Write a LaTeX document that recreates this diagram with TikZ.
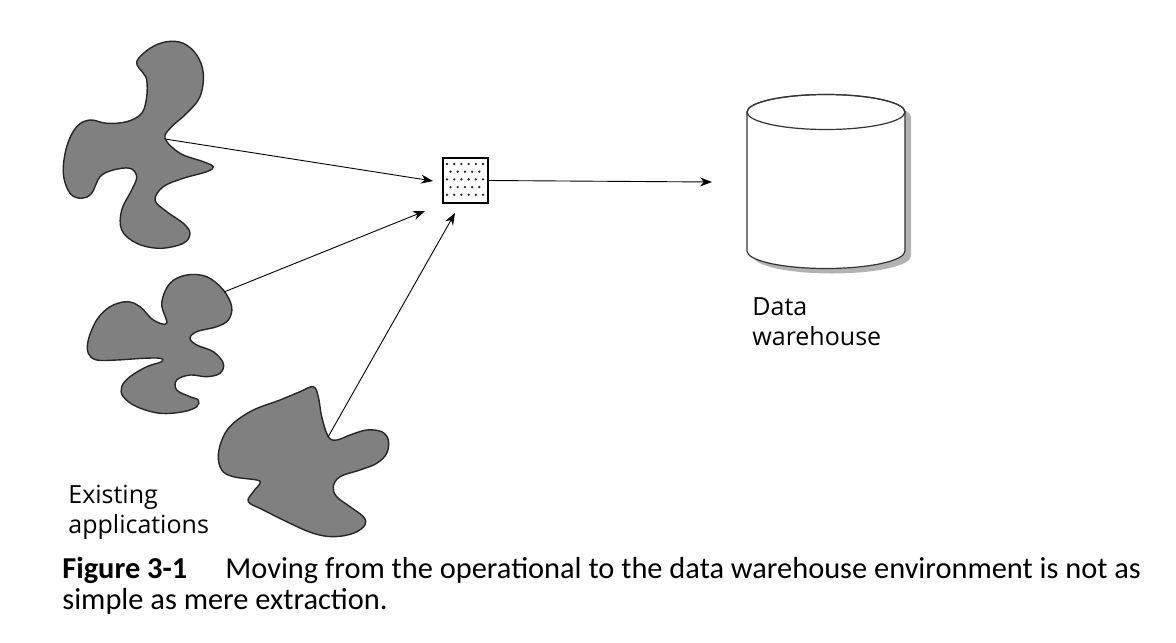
\documentclass[tikz,border=0pt]{standalone}
\usepackage{fontspec}
\usepackage{tikz}
\usetikzlibrary{arrows.meta}
\newfontfamily\labelfont{Open Sans}
\newfontfamily\capfont{Carlito}
\definecolor{blobgray}{gray}{0.5}
\definecolor{shadowgray}{gray}{0.7}

\begin{document}
\begin{tikzpicture}[x=0.5pt, y=-0.5pt,
 blob/.style={draw=black!85, line width=0.7pt, fill=blobgray},
 feed/.style={-{Stealth[length=6pt, width=4.5pt]}, line width=0.45pt},
 label/.style={font=\labelfont\fontsize{12.5}{15}\selectfont, align=left, inner sep=0pt},
 caption/.style={font=\capfont\fontsize{15.2}{15}\selectfont, inner sep=0pt, anchor=base west}]

\useasboundingbox (0,0) rectangle (1176,642);

% existing applications, three blobs
\draw[blob] plot[smooth cycle, tension=0.6] coordinates {
 (136.7,61.7) (150,48.3) (166.7,41.7) (183.3,43.3) (196.7,55) (203.3,73.3)
 (200,96.7) (186.7,113.3) (171.7,126.7) (165,138.3) (180,153.3) (203.3,161.7)
 (213.3,166.7) (206.7,171.7) (183.3,178.3) (163.3,186.7) (155,200) (166.7,211.7)
 (183.3,223.3) (190,233.3) (183.3,243.3) (160,248.3) (136.7,243.3) (121.7,230)
 (121.7,210) (131.7,190) (136.7,176.7) (130,168.3) (113.3,170) (100,176.7)
 (91.7,193.3) (81.7,198.3) (70,193.3) (63.3,173.3) (66.7,146.7) (76.7,126.7)
 (90,120) (106.7,123.3) (126.7,121.7) (141.7,113.3) (146.7,96.7) (146.7,80)
 (143.3,73.3)};
\draw[blob] plot[smooth cycle, tension=0.6] coordinates {
 (166.7,323.3) (161.7,303.3) (170,283.3) (186.7,275) (206.7,276.7) (223.3,290)
 (231.7,306.7) (228.3,320) (216.7,326.7) (196.7,331.7) (190,338.3) (196.7,345)
 (213.3,351.7) (223.3,363.3) (220,373.3) (206.7,376.7) (190,375) (176.7,380)
 (176.7,390) (190,396.7) (198.3,400) (196.7,406.7) (183.3,411.7) (160,413.3)
 (136.7,406.7) (123.3,396.7) (121.7,386.7) (130,376.7) (146.7,366.7) (161.7,361.7)
 (160,358.3) (143.3,358.3) (116.7,360) (96.7,360) (88.3,353.3) (88.3,340)
 (96.7,320) (110,306.7) (126.7,301.7) (140,306.7) (153.3,320)};
\draw[blob] plot[smooth cycle, tension=0.6] coordinates {
 (313.3,386.7) (318.3,396.7) (321.7,416.7) (328.3,436.7) (336.7,440) (350,435)
 (366.7,430) (381.7,431.7) (388.3,440) (386.7,453.3) (376.7,463.3) (360,470)
 (340,476.7) (333.3,486.7) (336.7,496.7) (350,506.7) (363.3,516.7) (365,525)
 (353.3,533.3) (333.3,536.7) (313.3,533.3) (290,523.3) (263.3,510) (248.3,501.7)
 (253.3,491.7) (260,483.3) (256.7,480) (233.3,476.7) (221.7,470) (218.3,455)
 (223.3,436.7) (233.3,423.3) (253.3,410) (280,400) (300,391.7)};

\coordinate (app1out) at (165,139);
\coordinate (app2out) at (224,292);
\coordinate (app3out) at (328,437);

% staging box with dots
\node[draw, line width=0.7pt, fill=white, minimum size=22.5pt, inner sep=0pt] (stage) at (465.5,180.5) {};
\foreach \dx in {0,...,5}
 \foreach \row in {0,2,4}
  \fill[black!85] (447+\dx*7.2, 164+\row*7.7) circle[radius=0.65pt];
\foreach \dx in {0,...,4}
 \foreach \row in {1,3}
  \fill[black!85] (450.5+\dx*7.2, 164+\row*7.7) circle[radius=0.65pt];

% data warehouse cylinder with shadow
\begin{scope}[shift={(6,5)}]
\fill[shadowgray] (747,112) -- (747,251) arc[start angle=180, end angle=0, x radius=79, y radius=17.5]
 -- (905,112) arc[start angle=0, end angle=-180, x radius=79, y radius=17.5] -- cycle;
\end{scope}
\filldraw[fill=white, draw=black!80, line width=0.6pt] (747,112) -- (747,251)
 arc[start angle=180, end angle=0, x radius=79, y radius=17.5]
 -- (905,112) arc[start angle=0, end angle=-180, x radius=79, y radius=17.5] -- cycle;
\draw[black!80, line width=0.6pt] (826,112) ellipse[x radius=79, y radius=17.5];

\coordinate (tip1) at (433,181);
\coordinate (tip2) at (425,211);
\coordinate (tip3) at (455,213);
\coordinate (dwin) at (712,182);

\draw[feed] (app1out) -- (tip1);
\draw[feed] (app2out) -- (tip2);
\draw[feed] (app3out) -- (tip3);
\draw[feed] (stage.east) -- (dwin);

% labels (base is the last line)
\node[label, anchor=base west] (dwlabel) at (752,345) {Data\\warehouse};
\node[label, anchor=base west] (applabel) at (68,533) {Existing\\applications};

% caption
\node[caption] (figno) at (62,578) {\textbf{Figure 3-1}};
\node[caption] (capline1) at (225,578) {Moving from the operational to the data warehouse environment is not as};
\node[caption] (capline2) at (62,609) {simple as mere extraction.};

\end{tikzpicture}
\end{document}
